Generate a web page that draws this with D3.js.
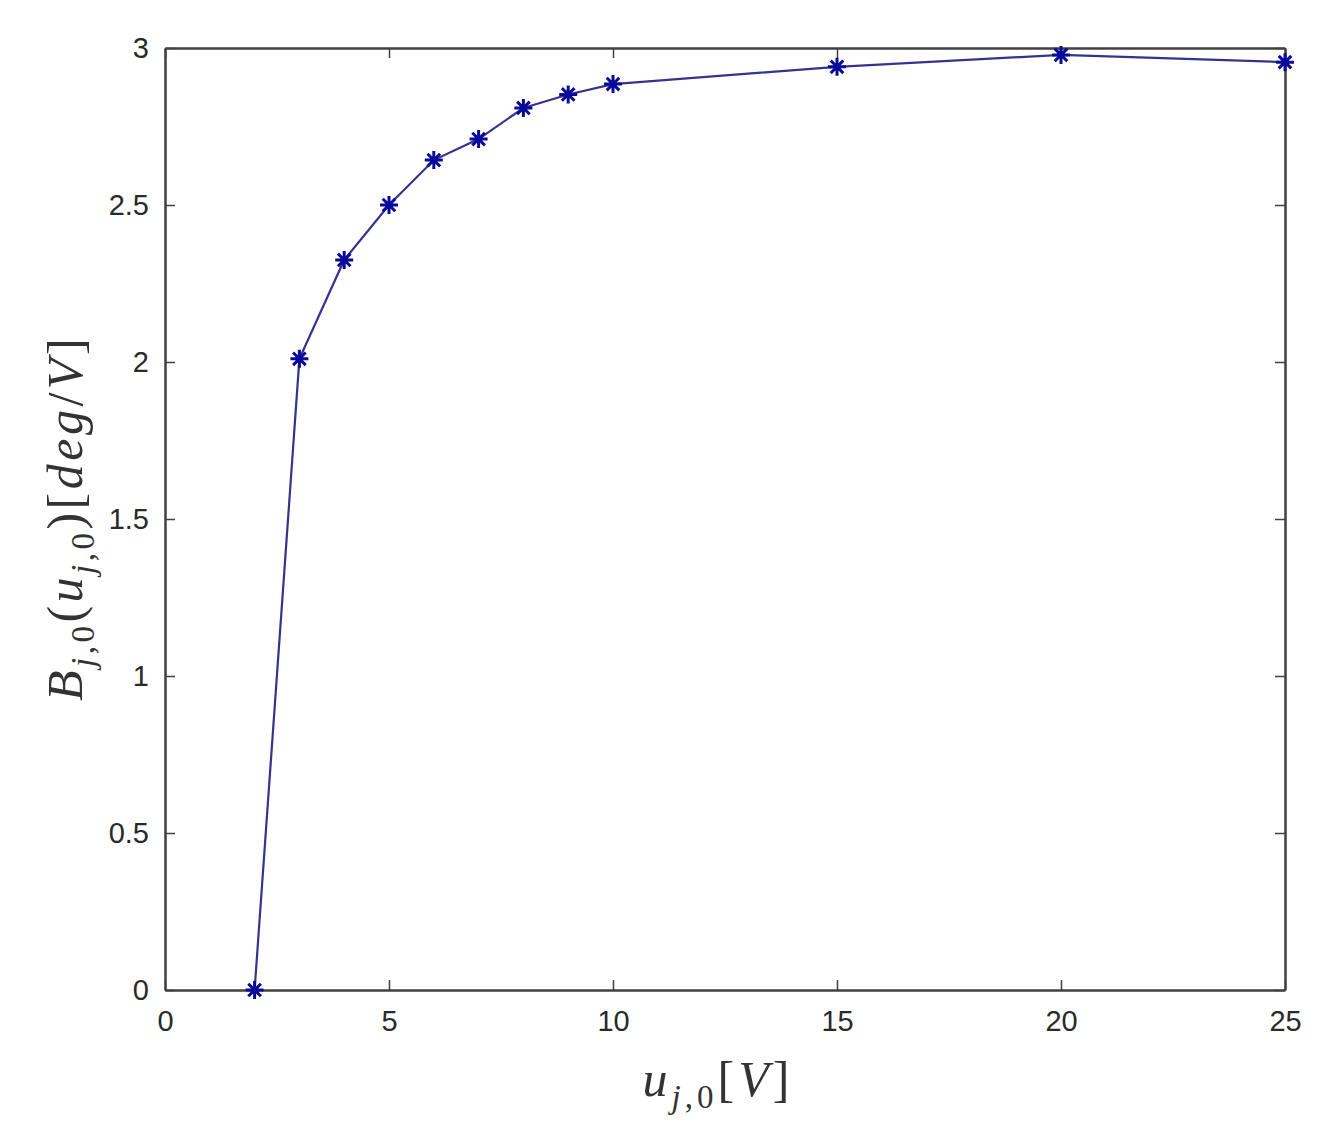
<!DOCTYPE html>
<html><head><meta charset="utf-8">
<script src="https://cdn.jsdelivr.net/npm/d3@7"></script>
<style>body{margin:0;background:#fff}</style>
</head><body>
<svg id="c" width="1324" height="1139"></svg>
<script>
const xVals = [2, 3, 4, 5, 6, 7, 8, 9, 10, 15, 20, 25];
const yVals = [0, 2.01, 2.325, 2.5, 2.643, 2.71, 2.809, 2.852, 2.885, 2.94, 2.978, 2.955];
const xTicks = [0, 5, 10, 15, 20, 25];
const yTicks = [0, 0.5, 1, 1.5, 2, 2.5, 3];

const svg = d3.select("#c");
const L = 165, R = 1285, T = 48, B = 990;
const x = d3.scaleLinear().domain([0, 25]).range([L, R]);
const y = d3.scaleLinear().domain([0, 3]).range([B, T]);
const axisColor = "#404040";
const tickFont = "'Liberation Sans', Arial, sans-serif";

const gx = svg.append("g").attr("transform", `translate(0,${B})`)
  .call(d3.axisBottom(x).tickValues(xTicks).tickSizeInner(-10).tickSizeOuter(0).tickPadding(20).tickFormat(d3.format("~g")));
const gxt = svg.append("g").attr("transform", `translate(0,${T})`)
  .call(d3.axisTop(x).tickValues(xTicks).tickSizeInner(-10).tickSizeOuter(0).tickFormat(""));
const gy = svg.append("g").attr("transform", `translate(${L},0)`)
  .call(d3.axisLeft(y).tickValues(yTicks).tickSizeInner(-10).tickSizeOuter(0).tickPadding(16).tickFormat(d3.format("~g")));
const gyr = svg.append("g").attr("transform", `translate(${R},0)`)
  .call(d3.axisRight(y).tickValues(yTicks).tickSizeInner(-10).tickSizeOuter(0).tickFormat(""));
[gx, gxt, gy, gyr].forEach(g => {
  g.select(".domain").attr("stroke", axisColor).attr("stroke-width", 2.5);
  g.selectAll(".tick line").attr("stroke", axisColor).attr("stroke-width", 1.5);
  g.selectAll(".tick text").attr("fill", "#2a2a2a").style("font-family", tickFont).style("font-size", "29px");
});
gx.selectAll(".tick text").attr("dy", "0.71em");

svg.append("path")
  .datum(xVals.map((v, i) => [v, yVals[i]]))
  .attr("fill", "none").attr("stroke", "#34348c").attr("stroke-width", 2.2)
  .attr("d", d3.line().x(d => x(d[0])).y(d => y(d[1])));

const s = 9;
const mk = svg.append("g").selectAll("g").data(xVals.map((v, i) => [v, yVals[i]])).join("g")
  .attr("transform", d => `translate(${x(d[0])},${y(d[1])})`);
mk.append("path")
  .attr("d", `M${-s},0H${s}M0,${-s}V${s}M${-s*0.7},${-s*0.7}L${s*0.7},${s*0.7}M${-s*0.7},${s*0.7}L${s*0.7},${-s*0.7}`)
  .attr("stroke", "#0a0a9a").attr("stroke-width", 3).attr("fill", "none");

const serif = "'Liberation Serif', 'DejaVu Serif', serif";
const big = "50px", sub = "33px", sh = 12;
function label(t, parts) {
  parts.forEach(p => {
    const ts = t.append("tspan").text(p.t);
    if (p.i) ts.style("font-style", "italic");
    if (p.s) ts.style("font-size", sub);
    if (p.dy) ts.attr("dy", p.dy);
  });
}
const xl = svg.append("text").attr("x", 718).attr("y", 1096).attr("text-anchor", "middle")
  .style("font-family", serif).style("font-size", big).style("letter-spacing", "4px").attr("fill", "#333");
label(xl, [{t:"u",i:1},{t:"j",i:1,s:1,dy:sh},{t:",0",s:1},{t:"[",dy:-sh},{t:"V",i:1},{t:"]"}]);

const yl = svg.append("text").attr("transform", "translate(82,518) rotate(-90)").attr("text-anchor", "middle")
  .style("font-family", serif).style("font-size", big).style("letter-spacing", "3.5px").attr("fill", "#333");
label(yl, [{t:"B",i:1},{t:"j",i:1,s:1,dy:sh},{t:",0",s:1},{t:"(",dy:-sh},{t:"u",i:1},{t:"j",i:1,s:1,dy:sh},{t:",0",s:1},
  {t:")[",dy:-sh},{t:"deg",i:1},{t:"/"},{t:"V",i:1},{t:"]"}]);
</script>
</body></html>
